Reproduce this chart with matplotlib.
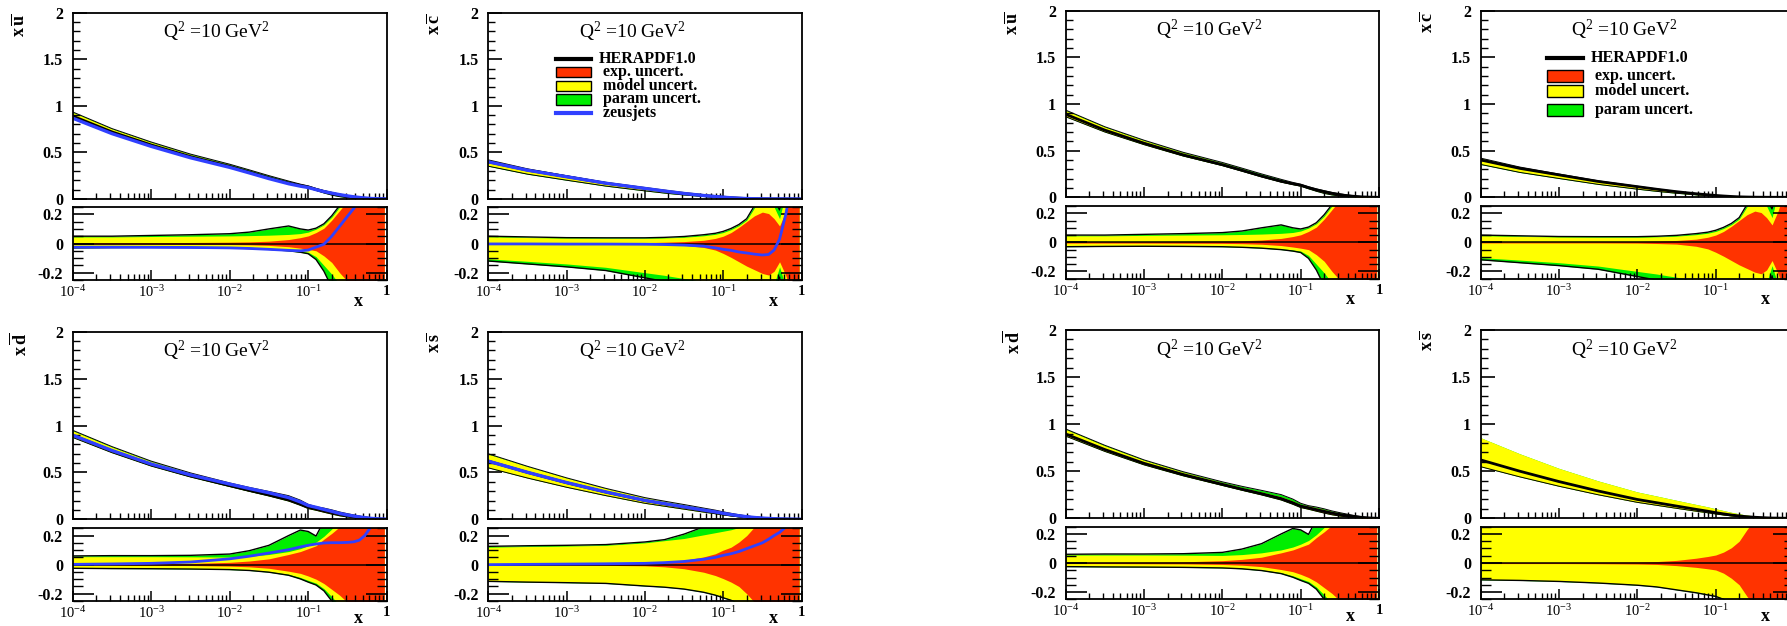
import numpy as np
import matplotlib
matplotlib.use("Agg")
import matplotlib.pyplot as plt
from matplotlib.patches import Rectangle
from matplotlib.lines import Line2D
from matplotlib.ticker import FixedLocator, FixedFormatter, MultipleLocator, NullFormatter

plt.rcParams['font.family'] = ['Liberation Serif', 'DejaVu Serif']
plt.rcParams['mathtext.fontset'] = 'custom'
plt.rcParams['mathtext.rm'] = 'Liberation Serif'
plt.rcParams['mathtext.bf'] = 'Liberation Serif:bold'
plt.rcParams['mathtext.it'] = 'Liberation Serif:italic'

# ---------------------------------------------------------------- data
# sampling points in log10(x)
LOG_X = [-4, -3.5, -3, -2.5, -2, -1.75, -1.5, -1.25, -1.1, -1.0, -0.9, -0.8,
         -0.7, -0.6, -0.5, -0.42, -0.35, -0.28, -0.2, -0.1, -0.03]

# central HERAPDF1.0 values at Q^2 = 10 GeV^2
UBAR_CENTRAL = [0.89, 0.72, 0.58, 0.455, 0.35, 0.29, 0.228, 0.172, 0.145, 0.129, 0.103,
                0.08, 0.06, 0.042, 0.028, 0.019, 0.013, 0.008, 0.004, 0.0015, 0.0005]
CBAR_CENTRAL = [0.40, 0.31, 0.24, 0.17, 0.114, 0.086, 0.06, 0.038, 0.027, 0.02, 0.014,
                0.009, 0.005, 0.003, 0.0015, 0.001, 0.0006, 0.0004, 0.0002, 0.0001, 0.00005]
DBAR_CENTRAL = [0.895, 0.73, 0.584, 0.465, 0.361, 0.31, 0.262, 0.21, 0.165, 0.13, 0.112,
                0.092, 0.074, 0.055, 0.04, 0.03, 0.022, 0.015, 0.008, 0.003, 0.001]
SBAR_CENTRAL = [0.62, 0.5, 0.39, 0.29, 0.2, 0.165, 0.13, 0.095, 0.075, 0.06, 0.047,
                0.035, 0.025, 0.017, 0.011, 0.008, 0.005, 0.003, 0.002, 0.0008, 0.0003]

# relative uncertainties: experimental, exp+model, exp+model+param (upper / lower)
UBAR_EXP_HI = [0.006, 0.006, 0.006, 0.007, 0.009, 0.011, 0.016, 0.027, 0.04, 0.052, 0.075,
               0.105, 0.16, 0.225, 0.29, 0.35, 0.42, 0.5, 0.6, 0.7, 0.8]
UBAR_MOD_HI = [0.045, 0.045, 0.048, 0.05, 0.052, 0.054, 0.057, 0.062, 0.068, 0.078, 0.098,
               0.128, 0.18, 0.25, 0.33, 0.41, 0.49, 0.58, 0.68, 0.78, 0.88]
UBAR_TOT_HI = [0.05, 0.05, 0.055, 0.06, 0.067, 0.078, 0.1, 0.12, 0.1, 0.092, 0.105,
               0.135, 0.19, 0.26, 0.34, 0.42, 0.5, 0.6, 0.7, 0.8, 0.9]
UBAR_EXP_LO = [-0.005, -0.005, -0.005, -0.006, -0.007, -0.009, -0.013, -0.022, -0.032, -0.04, -0.05,
               -0.085, -0.13, -0.2, -0.26, -0.31, -0.36, -0.42, -0.5, -0.6, -0.7]
UBAR_MOD_LO = [-0.026, -0.025, -0.025, -0.025, -0.027, -0.03, -0.035, -0.044, -0.052, -0.06, -0.09,
               -0.15, -0.21, -0.28, -0.36, -0.43, -0.5, -0.58, -0.65, -0.72, -0.8]
UBAR_TOT_LO = [-0.03, -0.028, -0.027, -0.028, -0.03, -0.034, -0.04, -0.05, -0.06, -0.07, -0.11,
               -0.19, -0.3, -0.4, -0.5, -0.6, -0.65, -0.7, -0.75, -0.8, -0.85]

CBAR_EXP_HI = [0.004, 0.004, 0.004, 0.005, 0.006, 0.009, 0.013, 0.022, 0.035, 0.05, 0.075,
               0.11, 0.15, 0.19, 0.215, 0.205, 0.17, 0.12, 0.22, 0.4, 0.6]
CBAR_MOD_HI = [0.046, 0.041, 0.037, 0.035, 0.035, 0.038, 0.043, 0.053, 0.063, 0.075, 0.095,
               0.122, 0.16, 0.245, 0.32, 0.36, 0.25, 0.17, 0.35, 0.5, 0.6]
CBAR_TOT_HI = [0.05, 0.045, 0.04, 0.039, 0.039, 0.042, 0.048, 0.06, 0.07, 0.083, 0.103,
               0.13, 0.17, 0.26, 0.34, 0.4, 0.3, 0.23, 0.4, 0.55, 0.65]
CBAR_EXP_LO = [-0.004, -0.004, -0.004, -0.004, -0.005, -0.008, -0.012, -0.027, -0.045, -0.068, -0.095,
               -0.125, -0.155, -0.18, -0.205, -0.216, -0.19, -0.125, -0.22, -0.4, -0.6]
CBAR_MOD_LO = [-0.105, -0.122, -0.14, -0.163, -0.2, -0.218, -0.24, -0.26, -0.28, -0.3, -0.32,
               -0.34, -0.36, -0.38, -0.4, -0.38, -0.28, -0.16, -0.3, -0.45, -0.5]
CBAR_TOT_LO = [-0.12, -0.14, -0.16, -0.185, -0.235, -0.26, -0.28, -0.3, -0.32, -0.34, -0.36,
               -0.38, -0.4, -0.42, -0.44, -0.45, -0.4, -0.23, -0.45, -0.5, -0.55]

DBAR_EXP_HI = [0.005, 0.005, 0.006, 0.008, 0.016, 0.025, 0.04, 0.07, 0.09, 0.11, 0.13,
               0.175, 0.215, 0.26, 0.33, 0.39, 0.45, 0.5, 0.6, 0.7, 0.8]
DBAR_MOD_HI = [0.055, 0.055, 0.055, 0.054, 0.052, 0.058, 0.07, 0.09, 0.11, 0.13, 0.155,
               0.195, 0.245, 0.3, 0.36, 0.42, 0.48, 0.55, 0.62, 0.72, 0.82]
DBAR_TOT_HI = [0.06, 0.062, 0.062, 0.064, 0.073, 0.096, 0.133, 0.2, 0.238, 0.228, 0.197,
               0.3, 0.36, 0.42, 0.5, 0.55, 0.6, 0.65, 0.7, 0.8, 0.9]
DBAR_EXP_LO = [-0.004, -0.004, -0.005, -0.006, -0.01, -0.015, -0.025, -0.045, -0.06, -0.078, -0.1,
               -0.13, -0.17, -0.21, -0.26, -0.3, -0.35, -0.4, -0.5, -0.6, -0.7]
DBAR_MOD_LO = [-0.022, -0.024, -0.025, -0.027, -0.031, -0.036, -0.047, -0.066, -0.088, -0.108, -0.127,
               -0.165, -0.22, -0.28, -0.35, -0.4, -0.45, -0.5, -0.55, -0.65, -0.75]
DBAR_TOT_LO = [-0.025, -0.027, -0.028, -0.03, -0.034, -0.04, -0.052, -0.073, -0.098, -0.12, -0.14,
               -0.18, -0.25, -0.32, -0.4, -0.45, -0.5, -0.55, -0.6, -0.7, -0.8]

SBAR_EXP_HI = [0.005, 0.005, 0.005, 0.006, 0.009, 0.015, 0.03, 0.053, 0.075, 0.1, 0.12,
               0.155, 0.2, 0.26, 0.32, 0.38, 0.44, 0.5, 0.6, 0.7, 0.8]
SBAR_MOD_HI = [0.12, 0.125, 0.128, 0.133, 0.15, 0.165, 0.18, 0.205, 0.22, 0.23, 0.24,
               0.255, 0.3, 0.35, 0.4, 0.45, 0.5, 0.55, 0.6, 0.7, 0.8]
SBAR_TOT_HI = [0.126, 0.13, 0.133, 0.138, 0.156, 0.172, 0.21, 0.26, 0.3, 0.33, 0.36,
               0.4, 0.45, 0.5, 0.55, 0.6, 0.65, 0.7, 0.75, 0.8, 0.85]
SBAR_EXP_LO = [-0.004, -0.004, -0.004, -0.005, -0.008, -0.015, -0.028, -0.052, -0.075, -0.096, -0.12,
               -0.15, -0.2, -0.26, -0.31, -0.35, -0.4, -0.45, -0.5, -0.6, -0.7]
SBAR_MOD_LO = [-0.112, -0.117, -0.121, -0.126, -0.143, -0.151, -0.164, -0.186, -0.205, -0.223, -0.24,
               -0.265, -0.29, -0.34, -0.39, -0.44, -0.49, -0.54, -0.59, -0.68, -0.78]
SBAR_TOT_LO = [-0.115, -0.12, -0.124, -0.129, -0.147, -0.155, -0.168, -0.19, -0.21, -0.228, -0.245,
               -0.27, -0.3, -0.35, -0.4, -0.45, -0.5, -0.55, -0.6, -0.7, -0.8]

# strange sea with the enlarged model variation (right-hand set)
SBAR2_EXP_HI = [0.004, 0.004, 0.004, 0.005, 0.007, 0.01, 0.018, 0.033, 0.045, 0.055, 0.075,
                0.105, 0.15, 0.23, 0.3, 0.36, 0.42, 0.48, 0.55, 0.65, 0.75]
SBAR2_MOD_HI = [0.38, 0.37, 0.36, 0.37, 0.4, 0.43, 0.47, 0.55, 0.62, 0.68, 0.75,
                0.82, 0.9, 1.0, 1.1, 1.15, 1.2, 1.25, 1.3, 1.4, 1.5]
SBAR2_TOT_HI = SBAR2_MOD_HI
SBAR2_EXP_LO = [-0.004, -0.004, -0.004, -0.005, -0.007, -0.01, -0.018, -0.03, -0.04, -0.048, -0.07,
                -0.105, -0.15, -0.23, -0.3, -0.36, -0.42, -0.48, -0.55, -0.65, -0.75]
SBAR2_MOD_LO = [-0.113, -0.117, -0.124, -0.135, -0.15, -0.162, -0.182, -0.2, -0.215, -0.225, -0.245,
                -0.275, -0.315, -0.355, -0.395, -0.445, -0.495, -0.545, -0.595, -0.695, -0.795]
SBAR2_TOT_LO = [-0.116, -0.12, -0.127, -0.138, -0.153, -0.165, -0.185, -0.205, -0.22, -0.23, -0.25,
                -0.28, -0.32, -0.36, -0.4, -0.45, -0.5, -0.55, -0.6, -0.7, -0.8]

# ZEUS-JETS relative to HERAPDF1.0
UBAR_ZEUS = [-0.025, -0.025, -0.026, -0.027, -0.03, -0.034, -0.04, -0.047, -0.05, -0.045, -0.025,
             -0.005, 0.05, 0.118, 0.186, 0.24, 0.29, 0.34, 0.4, 0.48, 0.55]
CBAR_ZEUS = [-0.003, -0.003, -0.004, -0.004, -0.005, -0.007, -0.011, -0.018, -0.03, -0.04, -0.047,
             -0.058, -0.065, -0.073, -0.079, -0.075, -0.045, 0.03, 0.2, 0.5, 0.7]
DBAR_ZEUS = [0.002, 0.005, 0.009, 0.018, 0.04, 0.058, 0.08, 0.103, 0.122, 0.133, 0.142,
             0.149, 0.151, 0.151, 0.153, 0.157, 0.168, 0.2, 0.26, 0.4, 0.55]
SBAR_ZEUS = [0.0, 0.002, 0.004, 0.006, 0.009, 0.014, 0.022, 0.037, 0.05, 0.064, 0.075,
             0.09, 0.11, 0.13, 0.15, 0.175, 0.2, 0.222, 0.26, 0.35, 0.45]

Y_LABELS = {
    'u': r'$\mathbf{x\,\overline{u}}$',
    'c': r'$\mathbf{x\,\overline{c}}$',
    'd': r'$\mathbf{x\,\overline{d}}$',
    's': r'$\mathbf{x\,\overline{s}}$',
}
TITLE = r'Q$^2$ =10 GeV$^2$'
LEGEND_LABELS = ['HERAPDF1.0', ' exp. uncert.', ' model uncert.', ' param uncert.', ' zeusjets']
X_TICK_LABELS = [r'$\mathregular{10^{-4}}$', r'$\mathregular{10^{-3}}$', r'$\mathregular{10^{-2}}$',
                 r'$\mathregular{10^{-1}}$', r'$\mathbf{1}$']

RED = '#ff3300'
YELLOW = '#ffff00'
GREEN = '#00ee00'
BLUE = '#3040ff'

W, H = 1787, 626
x = np.power(10.0, np.array(LOG_X))


def rect(left, top, right, bottom):
    return [left / W, 1 - bottom / H, (right - left) / W, (bottom - top) / H]


def style_log_x(ax, labels, last_label=True):
    ax.set_xscale('log')
    ax.set_xlim(1e-4, 1)
    ax.xaxis.set_major_locator(FixedLocator([1e-4, 1e-3, 1e-2, 1e-1, 1]))
    minors = [m * 10.0 ** e for e in range(-4, 0) for m in range(2, 10)]
    ax.xaxis.set_minor_locator(FixedLocator(minors))
    ax.xaxis.set_minor_formatter(NullFormatter())
    if labels:
        texts = list(X_TICK_LABELS)
        if not last_label:
            texts[-1] = ''
        ax.xaxis.set_major_formatter(FixedFormatter(texts))
    ax.tick_params(axis='x', which='major', direction='in', length=7, width=1.1,
                   bottom=True, top=False, labelbottom=labels, labelsize=10.5, pad=3)
    ax.tick_params(axis='x', which='minor', direction='in', length=4, width=1,
                   bottom=True, top=False)


def bold_ticklabels(ax):
    for t in ax.get_yticklabels():
        t.set_fontweight('bold')


def draw_panel(r_main, r_ratio, key, central, bands, zeus=None, legend=None,
               upper_outline=True, xlab_y=-0.29, last_label=True):
    exp_hi, mod_hi, tot_hi, exp_lo, mod_lo, tot_lo = [np.array(b) for b in bands]
    c = np.array(central)

    # ---- main panel
    ax = fig.add_axes(r_main)
    ax.fill_between(x, c * (1 + tot_lo), c * (1 + tot_hi), color=GREEN, lw=0)
    ax.fill_between(x, c * (1 + mod_lo), c * (1 + mod_hi), color=YELLOW, lw=0)
    ax.fill_between(x, c * (1 + exp_lo), c * (1 + exp_hi), color=RED, lw=0)
    if upper_outline:
        ax.plot(x, c * (1 + tot_hi), color='k', lw=0.7)
    ax.plot(x, c * (1 + tot_lo), color='k', lw=0.7)
    ax.plot(x, c, color='k', lw=2.0)
    if zeus is not None:
        ax.plot(x, c * (1 + np.array(zeus)), color=BLUE, lw=2.4)
    style_log_x(ax, False)
    ax.set_ylim(0, 2)
    ax.yaxis.set_major_locator(FixedLocator([0, 0.5, 1, 1.5, 2]))
    ax.yaxis.set_major_formatter(FixedFormatter(['0', '0.5', '1', '1.5', '2']))
    ax.yaxis.set_minor_locator(MultipleLocator(0.1))
    ax.tick_params(axis='y', which='major', direction='in', length=10, width=1.2,
                   left=True, right=False, labelsize=11.5, pad=7)
    ax.tick_params(axis='y', which='minor', direction='in', length=5, width=1,
                   left=True, right=False)
    bold_ticklabels(ax)
    for s in ax.spines.values():
        s.set_linewidth(1.3)
    ax.text(0.459, 0.895, TITLE, transform=ax.transAxes, ha='center', va='center',
            fontsize=14)
    ax.text(-0.168, 0.995, Y_LABELS[key], transform=ax.transAxes, ha='center', va='top',
            rotation=90, fontsize=13)

    if legend is not None:
        x0, x1, xt, ys, bh, with_zeus = legend
        ax.add_line(Line2D([x0, x1], [ys[0], ys[0]], color='k', lw=3,
                           transform=ax.transAxes))
        for yy, col in zip(ys[1:4], [RED, YELLOW, GREEN]):
            ax.add_patch(Rectangle((x0, yy - bh / 2), x1 - x0, bh, facecolor=col,
                                   edgecolor='k', lw=1.0, transform=ax.transAxes))
        n = 5 if with_zeus else 4
        if with_zeus:
            ax.add_line(Line2D([x0, x1], [ys[4], ys[4]], color=BLUE, lw=3,
                               transform=ax.transAxes))
        for i in range(n):
            ax.text(xt, ys[i], LEGEND_LABELS[i], transform=ax.transAxes, ha='left',
                    va='center', fontsize=11.5, fontweight='bold')

    # ---- ratio panel
    ar = fig.add_axes(r_ratio)
    ar.fill_between(x, tot_lo, tot_hi, color=GREEN, lw=0)
    ar.fill_between(x, mod_lo, mod_hi, color=YELLOW, lw=0)
    ar.fill_between(x, exp_lo, exp_hi, color=RED, lw=0)
    ar.plot(x, tot_hi, color='k', lw=1.0)
    ar.plot(x, tot_lo, color='k', lw=1.0)
    ar.axhline(0, color='k', lw=1.1)
    if zeus is not None:
        ar.plot(x, zeus, color=BLUE, lw=2.0)
    style_log_x(ar, True, last_label)
    ar.set_ylim(-0.25, 0.25)
    ar.yaxis.set_major_locator(FixedLocator([-0.2, 0, 0.2]))
    ar.yaxis.set_major_formatter(FixedFormatter(['-0.2', '0', '0.2']))
    ar.yaxis.set_minor_locator(MultipleLocator(0.05))
    ar.tick_params(axis='y', which='major', direction='in', length=15, width=1.2,
                   left=True, right=True, labelsize=11.5, pad=7)
    ar.tick_params(axis='y', which='minor', direction='in', length=7, width=1,
                   left=True, right=True)
    bold_ticklabels(ar)
    for s in ar.spines.values():
        s.set_linewidth(1.3)
    ar.text(0.909, xlab_y, 'x', transform=ar.transAxes, ha='center', va='center',
            fontsize=13, fontweight='bold')


fig = plt.figure(figsize=(W / 100, H / 100), dpi=100)

U_BANDS = (UBAR_EXP_HI, UBAR_MOD_HI, UBAR_TOT_HI, UBAR_EXP_LO, UBAR_MOD_LO, UBAR_TOT_LO)
C_BANDS = (CBAR_EXP_HI, CBAR_MOD_HI, CBAR_TOT_HI, CBAR_EXP_LO, CBAR_MOD_LO, CBAR_TOT_LO)
D_BANDS = (DBAR_EXP_HI, DBAR_MOD_HI, DBAR_TOT_HI, DBAR_EXP_LO, DBAR_MOD_LO, DBAR_TOT_LO)
S_BANDS = (SBAR_EXP_HI, SBAR_MOD_HI, SBAR_TOT_HI, SBAR_EXP_LO, SBAR_MOD_LO, SBAR_TOT_LO)
S2_BANDS = (SBAR2_EXP_HI, SBAR2_MOD_HI, SBAR2_TOT_HI, SBAR2_EXP_LO, SBAR2_MOD_LO, SBAR2_TOT_LO)

ROW2_XLAB = -0.235

# left set: HERAPDF1.0 compared with ZEUS-JETS
LA, LB = (72.7, 386.7), (488.3, 801.5)
L_ROW1 = (12.7, 199, 207, 280)
L_ROW2 = (331.7, 519.3, 528.3, 601)
leg_left = (0.216, 0.327, 0.353, [0.751, 0.682, 0.607, 0.535, 0.46], 0.056, True)

draw_panel(rect(LA[0], L_ROW1[0], LA[1], L_ROW1[1]), rect(LA[0], L_ROW1[2], LA[1], L_ROW1[3]),
           'u', UBAR_CENTRAL, U_BANDS, zeus=UBAR_ZEUS)
draw_panel(rect(LB[0], L_ROW1[0], LB[1], L_ROW1[1]), rect(LB[0], L_ROW1[2], LB[1], L_ROW1[3]),
           'c', CBAR_CENTRAL, C_BANDS, zeus=CBAR_ZEUS, legend=leg_left)
draw_panel(rect(LA[0], L_ROW2[0], LA[1], L_ROW2[1]), rect(LA[0], L_ROW2[2], LA[1], L_ROW2[3]),
           'd', DBAR_CENTRAL, D_BANDS, zeus=DBAR_ZEUS, xlab_y=ROW2_XLAB)
draw_panel(rect(LB[0], L_ROW2[0], LB[1], L_ROW2[1]), rect(LB[0], L_ROW2[2], LB[1], L_ROW2[3]),
           's', SBAR_CENTRAL, S_BANDS, zeus=SBAR_ZEUS, xlab_y=ROW2_XLAB)

# right set: HERAPDF1.0 alone
RA, RB = (1065.7, 1379), (1480.7, 1794)
R_ROW1 = (10.7, 197.3, 206, 278.7)
R_ROW2 = (330, 518.3, 526.7, 599.3)
leg_right = (0.213, 0.326, 0.352, [0.745, 0.651, 0.57, 0.466], 0.064, False)

draw_panel(rect(RA[0], R_ROW1[0], RA[1], R_ROW1[1]), rect(RA[0], R_ROW1[2], RA[1], R_ROW1[3]),
           'u', UBAR_CENTRAL, U_BANDS)
draw_panel(rect(RB[0], R_ROW1[0], RB[1], R_ROW1[1]), rect(RB[0], R_ROW1[2], RB[1], R_ROW1[3]),
           'c', CBAR_CENTRAL, C_BANDS, legend=leg_right, last_label=False)
draw_panel(rect(RA[0], R_ROW2[0], RA[1], R_ROW2[1]), rect(RA[0], R_ROW2[2], RA[1], R_ROW2[3]),
           'd', DBAR_CENTRAL, D_BANDS, xlab_y=ROW2_XLAB)
draw_panel(rect(RB[0], R_ROW2[0], RB[1], R_ROW2[1]), rect(RB[0], R_ROW2[2], RB[1], R_ROW2[3]),
           's', SBAR_CENTRAL, S2_BANDS, upper_outline=False, xlab_y=ROW2_XLAB, last_label=False)

fig.savefig('out.png', dpi=100)
